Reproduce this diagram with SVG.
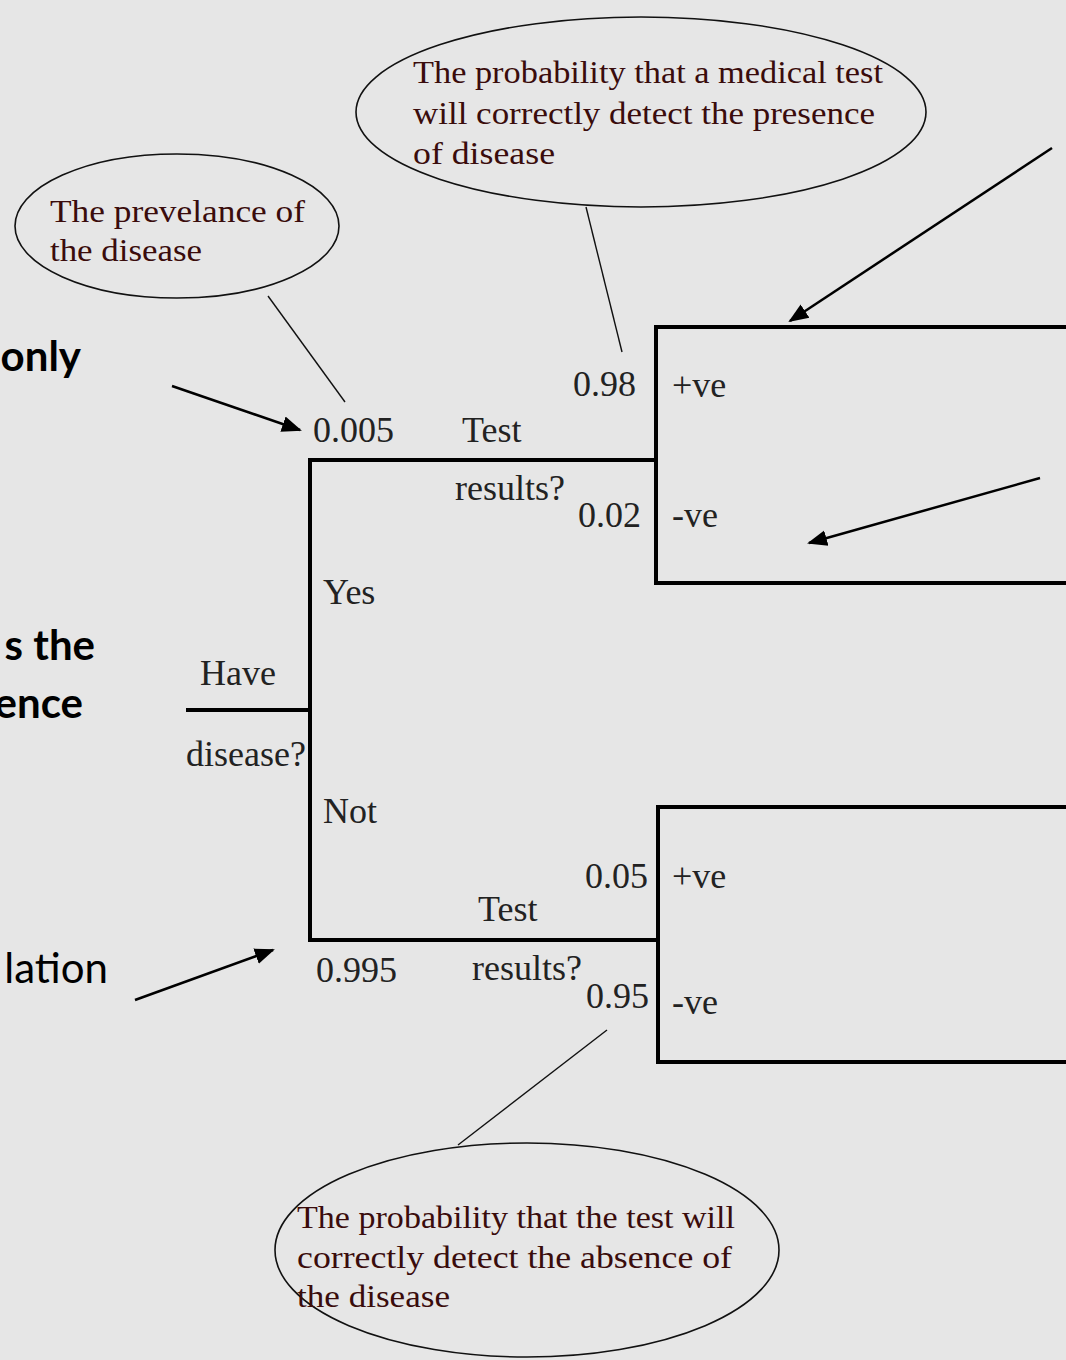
<svg xmlns="http://www.w3.org/2000/svg" width="1066" height="1360" viewBox="0 0 1066 1360">
<style>
.tree{fill:none;stroke:#000;stroke-width:4}
.ell{fill:none;stroke:#111;stroke-width:1.6}
.ptr{stroke:#111;stroke-width:1.4;fill:none}
.arr{stroke:#000;stroke-width:2.5;fill:none}
.lbl{font-family:"Liberation Serif","Times New Roman",serif;font-size:36px;fill:#222}
.note{font-family:"Liberation Serif","Times New Roman",serif;font-size:32px;fill:#3a0c0c}
.side{font-family:Lato,"Open Sans",sans-serif;font-size:42px;fill:#000;text-anchor:end}
</style>
<defs>
<marker id="ahb" viewBox="0 0 10 10" refX="9" refY="5" markerWidth="20" markerHeight="20" markerUnits="userSpaceOnUse" orient="auto">
<path d="M0,1 L10,5 L0,9 z" fill="#000"/>
</marker>
</defs>
<rect x="0" y="0" width="1066" height="1360" fill="#e6e6e6"/>

<g id="side-text">
<text class="side" x="81" y="371" font-weight="bold">only</text>
<text class="side" x="95" y="660" font-weight="bold">s the</text>
<text class="side" x="83" y="718" font-weight="bold">ence</text>
<text class="side" x="108" y="983">lation</text>
</g>

<g id="connectors">
<path class="tree" d="M186,710 H310"/>
<path class="tree" d="M310,458 V942"/>
<path class="tree" d="M310,460 H656"/>
<path class="tree" d="M310,940 H658"/>
<path class="ptr" d="M268,296 L345,402"/>
<path class="ptr" d="M586,207 L622,352"/>
<path class="ptr" d="M458,1145 L607,1030"/>
<path class="arr" d="M172,386 L300,430" marker-end="url(#ahb)"/>
<path class="arr" d="M135,1000 L273,950" marker-end="url(#ahb)"/>
<path class="arr" d="M1052,148 L790,321" marker-end="url(#ahb)"/>
<path class="arr" d="M1040,478 L809,543" marker-end="url(#ahb)"/>
</g>

<g id="box-positive-branch">
<path class="tree" d="M1070,327 H656 V583 H1070"/>
<text class="lbl" x="672" y="397">+ve</text>
<text class="lbl" x="672" y="527">-ve</text>
</g>

<g id="box-negative-branch">
<path class="tree" d="M1070,807 H658 V1062 H1070"/>
<text class="lbl" x="672" y="888">+ve</text>
<text class="lbl" x="672" y="1014">-ve</text>
</g>

<g id="node-have-disease">
<text class="lbl" x="200" y="685">Have</text>
<text class="lbl" x="186" y="766">disease?</text>
<text class="lbl" x="323" y="604">Yes</text>
<text class="lbl" x="323" y="823">Not</text>
</g>

<g id="node-test-yes">
<text class="lbl" x="313" y="442">0.005</text>
<text class="lbl" x="462" y="442">Test</text>
<text class="lbl" x="455" y="500">results?</text>
<text class="lbl" x="573" y="396">0.98</text>
<text class="lbl" x="578" y="527">0.02</text>
</g>

<g id="node-test-no">
<text class="lbl" x="316" y="982">0.995</text>
<text class="lbl" x="478" y="921">Test</text>
<text class="lbl" x="472" y="980">results?</text>
<text class="lbl" x="585" y="888">0.05</text>
<text class="lbl" x="586" y="1008">0.95</text>
</g>

<g id="note-prevalence">
<ellipse class="ell" cx="177" cy="226" rx="162" ry="72"/>
<text class="note" x="50" y="222" textLength="255" lengthAdjust="spacingAndGlyphs">The prevelance of</text>
<text class="note" x="50" y="261" textLength="152" lengthAdjust="spacingAndGlyphs">the disease</text>
</g>

<g id="note-sensitivity">
<ellipse class="ell" cx="641" cy="112" rx="285" ry="95"/>
<text class="note" x="413" y="83" textLength="470" lengthAdjust="spacingAndGlyphs">The probability that a medical test</text>
<text class="note" x="413" y="124" textLength="462" lengthAdjust="spacingAndGlyphs">will correctly detect the presence</text>
<text class="note" x="413" y="164" textLength="142" lengthAdjust="spacingAndGlyphs">of disease</text>
</g>

<g id="note-specificity">
<ellipse class="ell" cx="527" cy="1250" rx="252" ry="107"/>
<text class="note" x="297" y="1228" textLength="438" lengthAdjust="spacingAndGlyphs">The probability that the test will</text>
<text class="note" x="297" y="1268" textLength="435" lengthAdjust="spacingAndGlyphs">correctly detect the absence of</text>
<text class="note" x="297" y="1307" textLength="153" lengthAdjust="spacingAndGlyphs">the disease</text>
</g>
</svg>
